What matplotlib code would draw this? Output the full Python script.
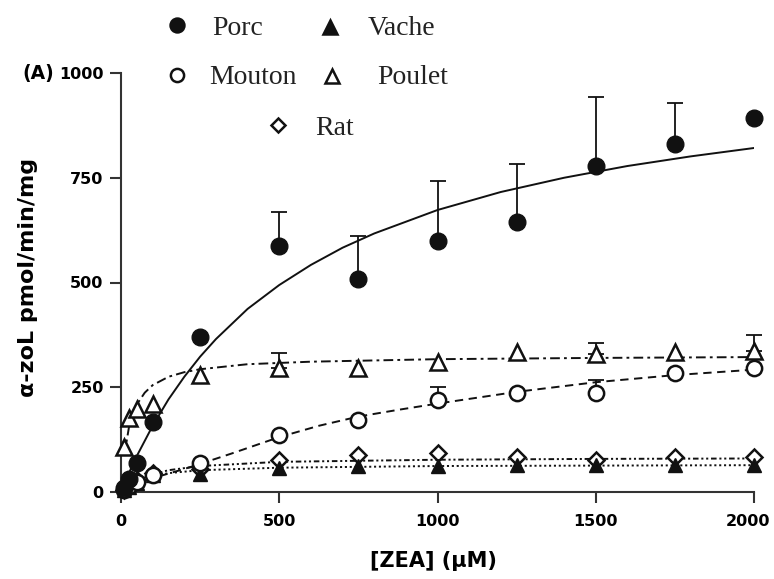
import numpy as np
import matplotlib
matplotlib.use("Agg")
import matplotlib.pyplot as plt
import matplotlib.transforms as mtransforms
from matplotlib.lines import Line2D

plt.rcParams['lines.scale_dashes'] = False

# substrate concentrations (uM)
zea = [10, 25, 50, 100, 250, 500, 750, 1000, 1250, 1500, 1750, 2000]
nan = np.nan

# measured activities (pmol/min/mg), upper error bars
porc = [10, 30, 70, 167, 370, 587, 508, 598, 644, 778, 831, 893]
porc_err = [nan, nan, nan, nan, nan, 81, 103, 144, 139, 165, 97, nan]
poulet = [107, 177, 198, 210, 279, 296, 296, 310, 334, 329, 334, 336]
poulet_err = [nan, nan, nan, nan, nan, 36, nan, nan, nan, 27, nan, 38]
mouton = [5, 15, 25, 40, 69, 136, 172, 220, 236, 236, 284, 296]
mouton_err = [nan, nan, nan, nan, nan, nan, nan, 31, nan, 31, nan, nan]
vache = [5, 12, 22, 40, 42, 58, 62, 62, 64, 64, 64, 64]
rat = [5, 15, 28, 45, 55, 76, 88, 93, 84, 77, 84, 83]

# fitted curves
porc_fit_x = [0, 25, 50, 100, 150, 200, 250, 300, 400, 500, 600, 700, 800, 1000, 1200, 1400, 1600, 1800, 2000]
porc_fit = [0, 45, 86, 158, 221, 275, 323, 365, 437, 494, 542, 583, 617, 673, 716, 750, 778, 801, 821]
poulet_fit_x = [10, 25, 50, 75, 100, 150, 200, 250, 400, 600, 1000, 1500, 2000]
poulet_fit = [86, 154, 209, 237, 255, 275, 286, 293, 305, 311, 317, 320, 322]
mouton_fit_x = [0, 50, 100, 200, 250, 350, 500, 625, 750, 875, 1000, 1250, 1500, 1750, 2000]
mouton_fit = [0, 15, 33, 55, 67, 92, 131, 158, 180, 196, 211, 239, 262, 279, 292]
low_fit_x = [0, 25, 50, 100, 150, 250, 500, 1000, 1500, 2000]
vache_fit = [0, 15, 25, 38, 45, 52, 58, 62, 63, 64]
rat_fit = [0, 15, 27, 42, 52, 62, 72, 77, 79, 80]

W, H = 774, 579
fig = plt.figure(figsize=(W / 100, H / 100), dpi=100)
ax = fig.add_axes([121 / W, 1 - 492 / H, (754 - 121) / W, 419 / H])

k = '#111111'
ax.plot(porc_fit_x, porc_fit, '-', color=k, lw=1.4, zorder=2)
ax.plot(poulet_fit_x, poulet_fit, color=k, lw=1.4, dashes=(7, 3, 2, 3), zorder=2)
ax.plot(mouton_fit_x, mouton_fit, color=k, lw=1.4, dashes=(6, 4), zorder=2)
ax.plot(low_fit_x, vache_fit, color=k, lw=1.4, dashes=(1.5, 2), zorder=2)
ax.plot(low_fit_x, rat_fit, color=k, lw=1.4, dashes=(4, 2, 1.5, 2, 1.5, 2), zorder=2)


def draw_err(y, err):
    x = np.array(zea, float)
    y = np.array(y, float)
    e = np.array(err, float)
    m = ~np.isnan(e)
    ax.errorbar(x[m], y[m], yerr=[np.zeros(m.sum()), e[m]], fmt='none',
                ecolor=k, elinewidth=1.3, capsize=6, capthick=1.3, zorder=3, clip_on=False)


draw_err(porc, porc_err)
draw_err(poulet, poulet_err)
draw_err(mouton, mouton_err)

mk = dict(linestyle='none', clip_on=False, zorder=4, markeredgecolor=k)
ax.plot(zea, rat, marker='D', markersize=8, markerfacecolor='white', markeredgewidth=1.8, **mk)
ax.plot(zea, vache, marker='^', markersize=10.5, markerfacecolor=k, markeredgewidth=1.0, **mk)
ax.plot(zea, mouton, marker='o', markersize=11, markerfacecolor='white', markeredgewidth=1.8, **mk)
ax.plot(zea, poulet, marker='^', markersize=11, markerfacecolor='white', markeredgewidth=1.8, **mk)
ax.plot(zea, porc, marker='o', markersize=12, markerfacecolor=k, markeredgewidth=1.0, **mk)

ax.set_xlim(0, 2000)
ax.set_ylim(0, 1000)
for s in ['top', 'right']:
    ax.spines[s].set_visible(False)
for s in ['left', 'bottom']:
    ax.spines[s].set_linewidth(1.5)
    ax.spines[s].set_color('#333333')

ax.set_xticks([0, 500, 1000, 1500, 2000], ['0', '500', '1000', '1500', '2000'],
              fontweight='bold', fontsize=11.5)
ax.set_yticks([0, 250, 500, 750, 1000], ['0', '250', '500', '750', '1000'],
              fontweight='bold', fontsize=11.5)
ax.tick_params(axis='both', direction='out', length=8, width=1.5, color='#333333')
ax.tick_params(axis='x', pad=7.5)
ax.tick_params(axis='y', pad=4.5)

# keep the last x tick label inside the canvas
last = ax.get_xticklabels()[-1]
last.set_transform(last.get_transform() +
                   mtransforms.ScaledTranslation(-6 / 100, 0, fig.dpi_scale_trans))

ax.set_ylabel('α-zoL pmol/min/mg', fontsize=16, fontweight='bold', va='center')
ax.yaxis.set_label_coords((28 - 121) / 633, (492 - 277) / 419)
ax.set_xlabel('[ZEA] (μM)', fontsize=15, fontweight='bold', va='center')
ax.xaxis.set_label_coords((433 - 121) / 633, (492 - 561) / 419)

fig.text(54 / W, 1 - 73 / H, '(A)', ha='right', va='center', fontsize=13.5, fontweight='bold')

# legend drawn by hand, in figure pixels
legend_items = [
    ('Porc', 'o', k, 177, 25, 212, 35, 10),
    ('Vache', '^', k, 330, 27, 368, 35, 10.5),
    ('Mouton', 'o', 'white', 177, 75, 209, 84, 9.5),
    ('Poulet', '^', 'white', 332, 76, 377, 84, 10),
    ('Rat', 'D', 'white', 278, 125, 315, 135, 7.5),
]
for name, m, fc, mx, my, tx, ty, ms in legend_items:
    fig.add_artist(Line2D([mx / W], [1 - my / H], marker=m, markersize=ms,
                          markerfacecolor=fc, markeredgecolor=k, markeredgewidth=1.8,
                          linestyle='none', transform=fig.transFigure))
    fig.text(tx / W, 1 - ty / H, name, ha='left', va='baseline',
             fontsize=20, family=['Liberation Serif', 'DejaVu Serif'], color='#222222')

fig.savefig('out.png', dpi=100)
